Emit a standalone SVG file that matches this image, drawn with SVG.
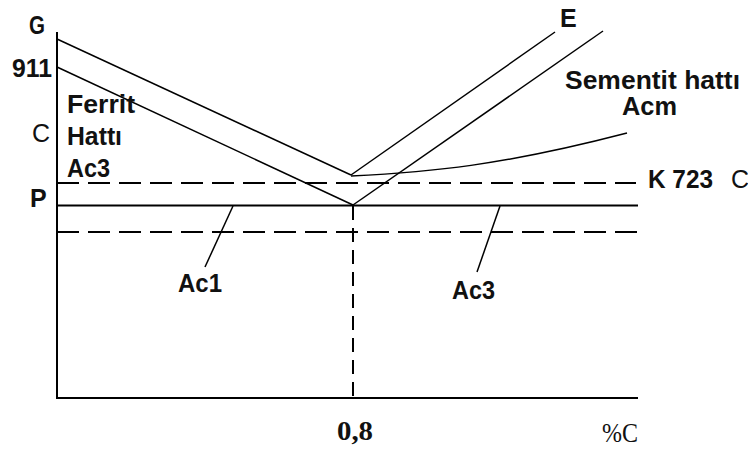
<svg xmlns="http://www.w3.org/2000/svg" width="748" height="450" viewBox="0 0 748 450">
<style>
.ax{stroke:#000;stroke-width:2;fill:none}
.ln{stroke:#000;stroke-width:1.5;fill:none}
.ds{stroke:#000;stroke-width:2;fill:none;stroke-dasharray:22 9}
.vd{stroke:#000;stroke-width:2;fill:none;stroke-dasharray:14 8}
.b{font-family:"Liberation Sans",Arial,sans-serif;font-weight:bold;font-size:25px;fill:#111}
.n{font-family:"Liberation Sans",Arial,sans-serif;font-size:25px;fill:#111}
.sb{font-family:"Liberation Serif","Times New Roman",serif;font-weight:bold;font-size:28px;fill:#111}
.sn{font-family:"Liberation Serif","Times New Roman",serif;font-size:27px;fill:#111}
</style>
<rect width="748" height="450" fill="#fff"/>
<g id="connectors">
<path class="ax" d="M57,32 V398 H638"/>
<path class="ax" d="M57,205.5 H638"/>
<path class="ds" d="M57,183 H636"/>
<path class="ds" d="M57,232 H638"/>
<path class="vd" d="M353,206 V398"/>
<path class="ln" d="M57,39 L351,175"/>
<path class="ln" d="M57,67 L353,205"/>
<path class="ln" d="M351,175 L555,32"/>
<path class="ln" d="M353,205 L603,31"/>
<path class="ln" d="M351,176 C430,172 500,166 627,133"/>
<path class="ln" d="M233,206 L205,267"/>
<path class="ln" d="M500,206 L477,272"/>
</g>
<g id="label-G"><text class="b" x="29" y="34" textLength="16" lengthAdjust="spacingAndGlyphs">G</text></g>
<g id="label-911"><text class="b" x="12" y="77" textLength="40" lengthAdjust="spacingAndGlyphs">911</text></g>
<g id="label-C"><text class="n" x="32" y="142">C</text></g>
<g id="label-P"><text class="b" x="30" y="207">P</text></g>
<g id="label-ferrit">
<text class="b" x="67" y="113" textLength="68" lengthAdjust="spacingAndGlyphs">Ferrit</text>
<text class="b" x="67" y="145" textLength="55" lengthAdjust="spacingAndGlyphs">Hattı</text>
<text class="b" x="67" y="177" textLength="43" lengthAdjust="spacingAndGlyphs">Ac3</text>
</g>
<g id="label-E"><text class="b" x="560" y="27">E</text></g>
<g id="label-sementit">
<text class="b" x="565" y="89" textLength="175" lengthAdjust="spacingAndGlyphs">Sementit hattı</text>
<text class="b" x="622" y="115" textLength="55" lengthAdjust="spacingAndGlyphs">Acm</text>
</g>
<g id="label-K723"><text class="b" x="648" y="188" textLength="65" lengthAdjust="spacingAndGlyphs">K 723</text><text class="n" x="731" y="188">C</text></g>
<g id="label-Ac1"><text class="b" x="178" y="292" textLength="44" lengthAdjust="spacingAndGlyphs">Ac1</text></g>
<g id="label-Ac3"><text class="b" x="452" y="299" textLength="43" lengthAdjust="spacingAndGlyphs">Ac3</text></g>
<g id="label-08"><text class="sb" x="337" y="440" textLength="36" lengthAdjust="spacingAndGlyphs">0,8</text></g>
<g id="label-pC"><text class="sn" x="602" y="442" textLength="36" lengthAdjust="spacingAndGlyphs">%C</text></g>
</svg>
